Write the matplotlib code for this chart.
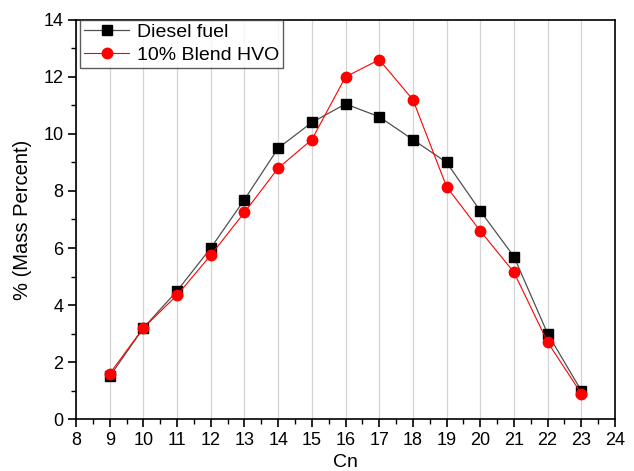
import matplotlib
matplotlib.use("Agg")
import matplotlib.pyplot as plt
from matplotlib.ticker import MultipleLocator

plt.rcParams['font.family'] = ['Liberation Sans', 'DejaVu Sans']

cn = [9, 10, 11, 12, 13, 14, 15, 16, 17, 18, 19, 20, 21, 22, 23]
diesel = [1.5, 3.2, 4.5, 6.0, 7.7, 9.5, 10.4, 11.05, 10.6, 9.8, 9.0, 7.3, 5.7, 3.0, 1.0]
hvo = [1.6, 3.2, 4.35, 5.75, 7.25, 8.8, 9.8, 12.0, 12.6, 11.2, 8.15, 6.6, 5.15, 2.7, 0.9]

fig = plt.figure(figsize=(6.34, 4.71), dpi=100)
ax = fig.add_axes([0.12, 0.110, 0.850, 0.848])

ax.plot(cn, diesel, color='#505050', lw=0.9, marker='s', ms=6.5,
        mfc='black', mec='black', label='Diesel fuel', zorder=3)
ax.plot(cn, hvo, color='red', lw=0.8, marker='o', ms=7.5,
        mfc='red', mec='red', label='10% Blend HVO', zorder=3)

ax.set_xlim(8, 24)
ax.set_ylim(0, 14)
ax.xaxis.set_major_locator(MultipleLocator(1))
ax.xaxis.set_minor_locator(MultipleLocator(0.5))
ax.yaxis.set_major_locator(MultipleLocator(2))
ax.yaxis.set_minor_locator(MultipleLocator(1))
ax.grid(axis='x', which='major', color='#d4d4d4', lw=0.9)
ax.set_axisbelow(True)

ax.tick_params(axis='both', which='major', direction='out', length=6, width=1.2,
               labelsize=13, top=False, right=False, pad=3)
ax.tick_params(axis='both', which='minor', direction='out', length=3.5, width=1.0,
               top=False, right=False)
for s in ax.spines.values():
    s.set_linewidth(1.2)

ax.set_xlabel('Cn', fontsize=14, labelpad=4)
ax.set_ylabel('% (Mass Percent)', fontsize=14.5, labelpad=8)

leg = ax.legend(loc='upper left', bbox_to_anchor=(0.008, 1.0), fontsize=14,
                frameon=True, fancybox=False, edgecolor='#333333',
                borderaxespad=0.0, handlelength=2.3, borderpad=0.2,
                labelspacing=0.25, handletextpad=0.4)
leg.get_frame().set_linewidth(1.0)

fig.savefig('out.png', dpi=100)
